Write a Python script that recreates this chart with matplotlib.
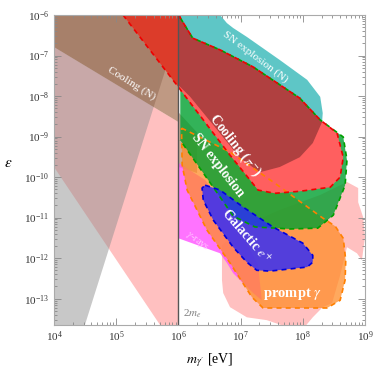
import numpy as np
import matplotlib
matplotlib.use("Agg")
import matplotlib.pyplot as plt
from matplotlib.ticker import LogLocator, NullFormatter

plt.rcParams["font.family"] = ["Liberation Serif", "DejaVu Serif"]
plt.rcParams["mathtext.fontset"] = "stix"

# Region boundaries, as log10(m / eV) and log10(eps)
grey_m = [4.0, 6.0, 6.0, 4.48, 4.0]
grey_e = [-6.0, -6.0, -6.34, -13.73, -13.73]

pinkL_m = [4.0, 6.0, 6.0, 5.74, 4.0]
pinkL_e = [-6.79, -8.64, -13.73, -13.73, -9.75]

coolN_m = [4.0, 6.0, 6.0, 4.0]
coolN_e = [-5.9, -5.9, -8.64, -6.79]

# tan patch right of 2 m_e, under the pion regions
tan_m = [6.0, 6.3, 6.3, 6.0]
tan_e = [-8.4, -8.9, -9.9, -9.75]

pinkR_m = [6.70, 6.70, 6.72, 6.83, 7.10, 7.42, 7.71, 8.04, 8.16, 8.32, 8.47, 8.60,
           8.71, 8.87, 8.95, 9.00, 8.97, 8.89, 8.89, 8.71, 8.28, 7.63, 7.07]
pinkR_e = [-11.68, -12.54, -12.86, -13.21, -13.46, -13.53, -13.68, -13.68, -13.46, -13.21, -13.11, -12.42,
           -11.73, -11.88, -12.05, -11.48, -10.99, -10.62, -10.27, -10.12, -10.44, -10.81, -11.19]

snN_m = [6.0, 6.67, 6.67, 6.78, 6.88, 7.10, 7.63, 8.07, 8.28, 8.32, 8.31, 8.16,
         7.95, 7.63, 7.31, 6.99, 6.59, 6.19, 6.0]
snN_e = [-5.9, -5.9, -6.0, -6.20, -6.32, -6.54, -7.11, -7.60, -8.02, -8.42, -8.64, -9.16,
         -9.51, -9.75, -9.88, -9.53, -8.77, -8.02, -7.73]

gamma_m = [6.0, 6.43, 6.91, 7.28, 7.34, 7.20, 7.04, 6.88, 6.78, 6.67, 6.0]
gamma_e = [-9.65, -10.07, -11.06, -12.17, -13.04, -12.86, -12.62, -12.37, -12.12, -11.88, -11.51]

prompt_m = [6.05, 6.83, 7.55, 8.32, 8.52, 8.65, 8.69, 8.68, 8.60, 8.39, 7.36, 7.18,
            6.83, 6.46, 6.14, 6.06]
prompt_e = [-8.79, -9.38, -10.15, -11.01, -11.21, -11.51, -12.05, -12.54, -13.04, -13.23, -13.23, -12.96,
            -12.12, -11.31, -10.32, -9.70]

snpi_m = [6.03, 6.23, 6.67, 7.20, 7.95, 8.28, 8.65, 8.71, 8.68, 8.49, 8.24, 7.79,
          7.23, 6.88, 6.56, 6.03]
snpi_e = [-6.07, -6.57, -6.86, -7.28, -8.05, -8.59, -9.01, -9.58, -10.20, -10.94, -11.26, -11.28,
          -11.23, -10.96, -10.25, -9.09]

coolpi_m = [5.06, 6.0, 6.40, 6.83, 7.15, 7.28, 7.55, 7.95, 8.44, 8.60, 8.65, 8.55,
            8.28, 7.95, 7.20, 6.67, 6.23, 6.03, 6.0]
coolpi_e = [-5.9, -7.78, -8.59, -9.46, -10.07, -10.32, -10.40, -10.35, -10.25, -10.00, -9.51, -8.91,
            -8.59, -8.05, -7.28, -6.86, -6.57, -6.07, -5.9]

gal_m = [6.43, 6.67, 7.04, 7.52, 8.00, 8.16, 8.16, 8.07, 7.47, 7.26, 7.10, 6.88,
         6.56, 6.40, 6.38]
gal_e = [-10.20, -10.32, -10.74, -11.23, -11.63, -11.93, -12.10, -12.22, -12.32, -12.30, -12.10, -11.73,
         -11.06, -10.57, -10.27]


def pts(m, e):
    return 10.0 ** np.array(m), 10.0 ** np.array(e)


fig = plt.figure(figsize=(3.74, 3.70), dpi=100)
ax = fig.add_axes([0.1444, 0.1216, 0.8316, 0.8378])

# filled regions
ax.fill(*pts(pinkL_m, pinkL_e), color="#ffc0c0", lw=0)
ax.fill(*pts(pinkR_m, pinkR_e), color="#ffc0c0", lw=0)
ax.fill(*pts(grey_m, grey_e), color="#8f8f8f", alpha=0.49, lw=0)
brown = ax.fill(*pts(coolN_m, coolN_e), color="#8c461e", alpha=0.55, lw=0)[0]
ax.fill(*pts(tan_m, tan_e), color="#8c461e", alpha=0.45, lw=0)
ax.fill(*pts(snN_m, snN_e), color="#28b4b4", alpha=0.75, lw=0)
ax.fill(*pts(gamma_m, gamma_e), color="#ff50ff", alpha=0.8, lw=0)
ax.fill(*pts(prompt_m, prompt_e), color="#ff8c28", alpha=0.75, lw=0)
ax.fill(*pts(snpi_m, snpi_e), color="#00a030", alpha=0.8, lw=0)
red = ax.fill(*pts(coolpi_m, coolpi_e), color="#ff5f5f", lw=0)[0]
# overlaps of the pion cooling region with the nucleon regions
over1 = ax.fill(*pts(coolpi_m, coolpi_e), color="#dc3c2a", lw=0)[0]
over1.set_clip_path(brown)
over2 = ax.fill(*pts(snN_m, snN_e), color="#b04040", lw=0)[0]
over2.set_clip_path(red)
ax.fill(*pts(gal_m, gal_e), color="#2828ff", alpha=0.8, lw=0)

# dashed outlines
m, e = pts(prompt_m + prompt_m[:1], prompt_e + prompt_e[:1])
ax.plot(m, e, color="#ff8000", lw=1.2, ls=(0, (3, 2.5)))
m, e = pts(snpi_m, snpi_e)
ax.plot(m, e, color="#00a000", lw=1.2, ls=(0, (3, 2.5)))
m, e = pts(coolpi_m, coolpi_e)
ax.plot(m, e, color="#ee0000", lw=1.2, ls=(2.5, (3, 2.5)))
m, e = pts(gal_m + gal_m[:1], gal_e + gal_e[:1])
ax.plot(m, e, color="#0000dd", lw=1.2, ls=(0, (3, 2.5)))

# 2 m_e threshold
ax.axvline(1e6, color="#555555", lw=1.0)

# labels on the regions
ax.text(10**5.25, 10**-7.68, "Cooling (N)", color="white", fontsize=8,
        rotation=-32, ha="center", va="center", rotation_mode="anchor")
ax.text(10**7.23, 10**-7.04, "SN explosion (N)", color="white", fontsize=8,
        rotation=-37, ha="center", va="center", rotation_mode="anchor")
ax.text(10**6.91, 10**-9.21, r"Cooling ($\pi^{-}$)", color="white", fontsize=10,
        fontweight="bold", rotation=-52, ha="center", va="center", rotation_mode="anchor")
ax.text(10**6.64, 10**-9.70, "SN explosion", color="white", fontsize=10,
        fontweight="bold", rotation=-52, ha="center", va="center", rotation_mode="anchor")
ax.text(10**7.09, 10**-11.46, r"Galactic $e^{+}$", color="white", fontsize=10,
        fontweight="bold", rotation=-49, ha="center", va="center", rotation_mode="anchor")
ax.text(10**6.30, 10**-11.58, r"$\gamma$-rays", color="#ffc8ff", fontsize=7.5,
        rotation=-37, ha="center", va="center", rotation_mode="anchor")
ax.text(10**7.83, 10**-12.89, r"prompt $\gamma$", color="white", fontsize=10.5,
        fontweight="bold", ha="center", va="center")
ax.text(10**6.07, 10**-13.36, r"2$m_e$", color="#808080", fontsize=8,
        ha="left", va="center")

# axes
ax.set_xscale("log")
ax.set_yscale("log")
ax.set_xlim(1e4, 1e9)
ax.set_ylim(10**-13.65, 1e-6)
ax.xaxis.set_major_locator(LogLocator(base=10, numticks=10))
ax.yaxis.set_major_locator(LogLocator(base=10, numticks=12))
ax.xaxis.set_minor_locator(LogLocator(base=10, subs=np.arange(2, 10), numticks=50))
ax.yaxis.set_minor_locator(LogLocator(base=10, subs=np.arange(2, 10), numticks=50))
ax.xaxis.set_minor_formatter(NullFormatter())
ax.yaxis.set_minor_formatter(NullFormatter())
ax.tick_params(which="both", direction="in", top=True, right=True,
               color="#888888", width=0.6, labelsize=8, labelcolor="#333333")
ax.tick_params(which="major", length=5)
ax.tick_params(which="minor", length=2.5)
for s in ax.spines.values():
    s.set_color("#aaaaaa")
    s.set_linewidth(0.8)

ax.set_xlabel(r"$m_{\gamma'}$ [eV]", fontsize=10)
ax.set_ylabel(r"$\varepsilon$", fontsize=11, rotation=0)
ax.xaxis.set_label_coords(0.5, -0.085)
ax.yaxis.set_label_coords(-0.147, 0.5)

plt.savefig("out.png", dpi=100)
